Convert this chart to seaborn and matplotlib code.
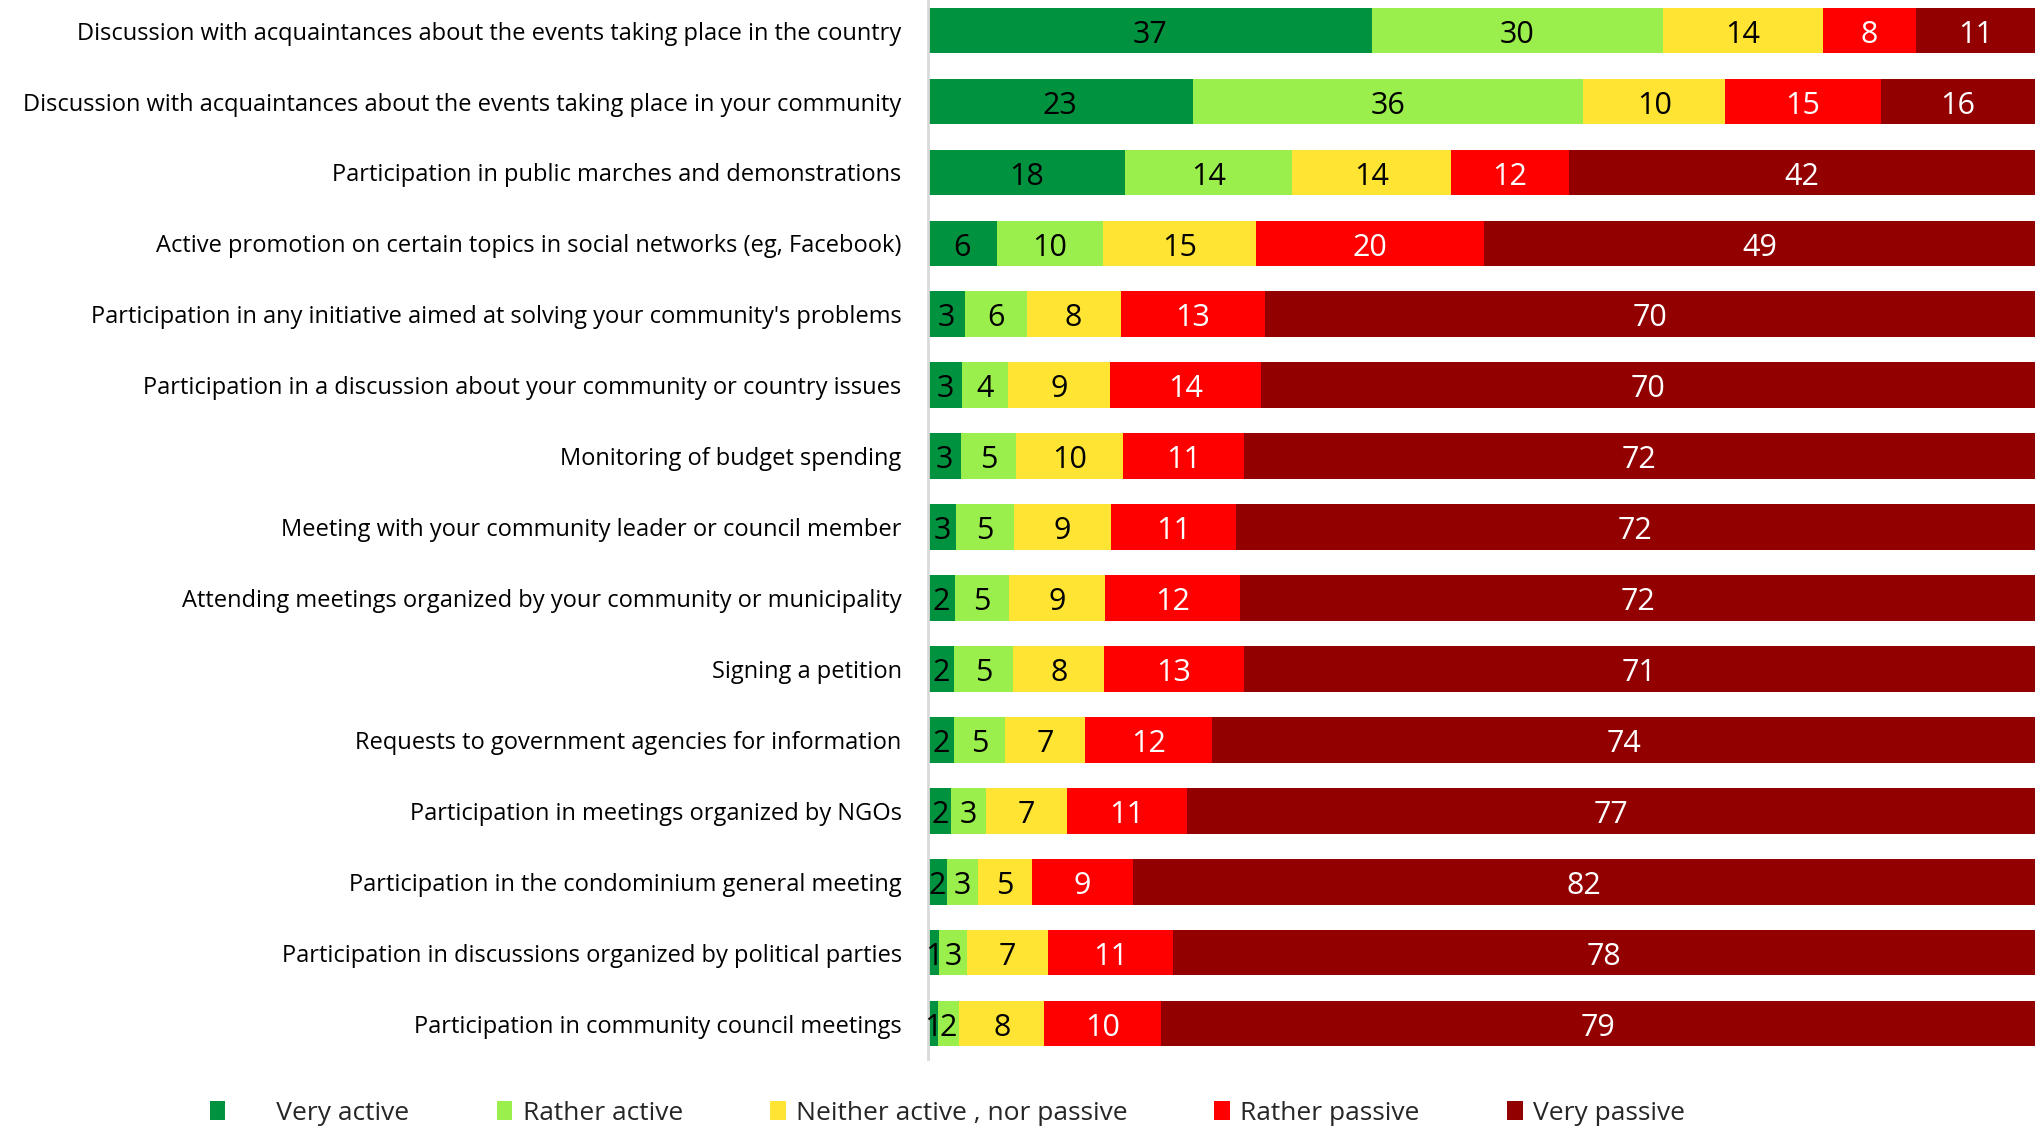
import numpy as np
import pandas as pd
import matplotlib
matplotlib.use("Agg")
import matplotlib.pyplot as plt
import matplotlib.transforms as mtransforms
import seaborn as sns
from matplotlib.patches import Patch

# Dados do gráfico (de cima para baixo)
atividades = [
    "Discussion with acquaintances about the events taking place in the country",
    "Discussion with acquaintances about the events taking place in your community",
    "Participation in public marches and demonstrations",
    "Active promotion on certain topics in social networks (eg, Facebook)",
    "Participation in any initiative aimed at solving your community's problems",
    "Participation in a discussion about your community or country issues",
    "Monitoring of budget spending",
    "Meeting with your community leader or council member",
    "Attending meetings organized by your community or municipality",
    "Signing a petition",
    "Requests to government agencies for information",
    "Participation in meetings organized by NGOs",
    "Participation in the condominium general meeting",
    "Participation in discussions organized by political parties",
    "Participation in community council meetings",
]
categorias = ["Very active", "Rather active", "Neither active , nor passive",
              "Rather passive", "Very passive"]

# comprimento das barras (%)
very_active = [40.1, 23.9, 17.8, 6.2, 3.3, 3.1, 3.0, 2.5, 2.4, 2.3, 2.3, 2.1, 1.7, 1.0, 0.9]
rather_active = [26.3, 35.3, 15.1, 9.6, 5.6, 4.1, 4.9, 5.3, 4.9, 5.4, 4.7, 3.1, 2.8, 2.5, 1.9]
neither = [14.4, 12.8, 14.3, 13.8, 8.5, 9.2, 9.7, 8.7, 8.7, 8.2, 7.2, 7.3, 4.9, 7.3, 7.7]
rather_passive = [8.4, 14.1, 10.7, 20.6, 13.0, 13.7, 10.9, 11.3, 12.2, 12.6, 11.5, 10.9, 9.1, 11.3, 10.5]
very_passive = [10.8, 13.9, 42.1, 49.8, 69.6, 69.9, 71.5, 72.2, 71.8, 71.4, 74.4, 76.5, 81.5, 77.8, 79.0]

# rótulos de dados mostrados nas barras
rot_very_active = [37, 23, 18, 6, 3, 3, 3, 3, 2, 2, 2, 2, 2, 1, 1]
rot_rather_active = [30, 36, 14, 10, 6, 4, 5, 5, 5, 5, 5, 3, 3, 3, 2]
rot_neither = [14, 10, 14, 15, 8, 9, 10, 9, 9, 8, 7, 7, 5, 7, 8]
rot_rather_passive = [8, 15, 12, 20, 13, 14, 11, 11, 12, 13, 12, 11, 9, 11, 10]
rot_very_passive = [11, 16, 42, 49, 70, 70, 72, 72, 72, 71, 74, 77, 82, 78, 79]

cores = ["#00923F", "#9BEF4D", "#FFE433", "#FF0000", "#920000"]
cores_texto = ["black", "black", "black", "white", "white"]

valores = [very_active, rather_active, neither, rather_passive, very_passive]
rotulos = [rot_very_active, rot_rather_active, rot_neither, rot_rather_passive, rot_very_passive]

df = pd.DataFrame({"atividade": atividades})
for cat, v in zip(categorias, valores):
    df[cat] = v

# Barras 100% empilhadas (como no Excel)
total = df[categorias].sum(axis=1)
pct = df[categorias].div(total, axis=0) * 100
acum = pct.cumsum(axis=1)

sns.set_style("white")
plt.rcParams["font.family"] = ["Open Sans", "DejaVu Sans"]

fig = plt.figure(figsize=(20.42, 11.28), dpi=100)
ax = fig.add_axes([0.4545, 0.0612, 0.5421, 0.9431])

# desenha do acumulado maior para o menor, sobrepondo
for i in range(len(categorias) - 1, -1, -1):
    cat = categorias[i]
    sns.barplot(x=acum[cat], y=df["atividade"], orient="h", color=cores[i],
                saturation=1, width=0.645, ax=ax, edgecolor="none")

# rótulos de dados no centro de cada segmento (um pouco abaixo, como no original)
desloca = mtransforms.offset_copy(ax.transData, fig=fig, x=0, y=-3, units="points")
for i, cat in enumerate(categorias):
    centros = acum[cat] - pct[cat] / 2
    for j in range(len(df)):
        ax.text(centros[j], j, str(rotulos[i][j]), ha="center", va="center",
                fontsize=22, color=cores_texto[i], transform=desloca)

ax.set_xlim(0, 100)
ax.set_ylim(14.5, -0.5)
ax.set_xlabel("")
ax.set_ylabel("")
ax.set_xticks([])
ax.tick_params(axis="y", length=0, pad=19, labelsize=17, labelcolor="black")
for s in ["top", "right", "bottom"]:
    ax.spines[s].set_visible(False)
ax.spines["left"].set_color("#d9d9d9")
ax.spines["left"].set_linewidth(2)

handles = [Patch(facecolor=c, edgecolor="none") for c in cores]
nomes_legenda = ["      " + categorias[0]] + categorias[1:]
fig.legend(handles, nomes_legenda, loc="center left", bbox_to_anchor=(0.091, 0.013),
           ncol=5, frameon=False, fontsize=19, handlelength=0.6,
           handleheight=0.7, handletextpad=0.38, columnspacing=3.3)

fig.savefig("out.png", dpi=100)
